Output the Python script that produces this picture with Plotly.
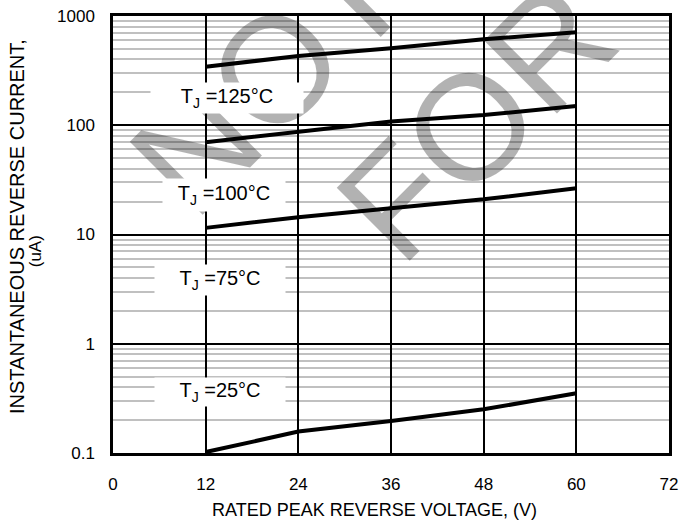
import plotly.graph_objects as go

# ---- data ----
voltage = [12, 24, 36, 48, 60]
current_25c = [0.102, 0.157, 0.196, 0.251, 0.352]
current_75c = [11.5, 14.4, 17.4, 21.0, 26.5]
current_100c = [70, 87, 108, 124, 150]
current_125c = [343, 431, 506, 612, 709]

series_names = ["T<sub>J</sub> =25°C", "T<sub>J</sub> =75°C",
                "T<sub>J</sub> =100°C", "T<sub>J</sub> =125°C"]
series_values = [current_25c, current_75c, current_100c, current_125c]

x_ticks = [0, 12, 24, 36, 48, 60, 72]
y_ticks = [0.1, 1, 10, 100, 1000]
y_tick_labels = ["0.1", "1", "10", "100", "1000"]
y_minor = [m * 10 ** e for e in range(-1, 3) for m in range(2, 10)]

x_title = "RATED PEAK REVERSE VOLTAGE, (V)"
y_title_1 = "INSTANTANEOUS REVERSE CURRENT,"
y_title_2 = "(uA)"
watermark_words = ["NOT", "FOR"]

FONT = "Liberation Sans, Arial, sans-serif"

fig = go.Figure()
for name, vals in zip(series_names, series_values):
    fig.add_trace(go.Scatter(x=voltage, y=vals, mode="lines", name=name,
                             line=dict(color="black", width=4),
                             showlegend=False, hoverinfo="skip"))

annotations = []
# watermark (semi-transparent so black lines stay black beneath)
wm_pos = [(0.2806, 0.865), (0.6529, 0.7597)]
for word, (px, py) in zip(watermark_words, wm_pos):
    annotations.append(dict(text=word, xref="paper", yref="paper", x=px, y=py,
                            xanchor="center", yanchor="middle", showarrow=False,
                            textangle=-45,
                            font=dict(family=FONT, size=150, color="rgba(0,0,0,0.30)")))

# curve labels
label_layout = {
    "T<sub>J</sub> =125°C": (0.205, 0.8124, 152, 30),
    "T<sub>J</sub> =100°C": (0.1996, 0.590, 122, 32),
    "T<sub>J</sub> =75°C": (0.1924, 0.3959, 130, 30),
    "T<sub>J</sub> =25°C": (0.1924, 0.1396, 130, 28),
}
for name in series_names:
    px, py, w, h = label_layout[name]
    annotations.append(dict(text=name, xref="paper", yref="paper", x=px, y=py,
                            xanchor="center", yanchor="middle", showarrow=False,
                            width=w, height=h, borderpad=0, bgcolor="white",
                            align="center", valign="middle",
                            font=dict(family=FONT, size=20, color="black")))

# axis titles
annotations.append(dict(text=x_title, xref="paper", yref="paper", x=0.471, y=-0.130,
                        xanchor="center", yanchor="middle", showarrow=False,
                        font=dict(family=FONT, size=18, color="black")))
annotations.append(dict(text=y_title_1, xref="paper", yref="paper", x=-0.173, y=0.519,
                        xanchor="center", yanchor="middle", showarrow=False, textangle=-90,
                        font=dict(family=FONT, size=20, color="black")))
annotations.append(dict(text=y_title_2, xref="paper", yref="paper", x=-0.140, y=0.462,
                        xanchor="center", yanchor="middle", showarrow=False, textangle=-90,
                        font=dict(family=FONT, size=17, color="black")))

fig.update_layout(
    width=679, height=520,
    margin=dict(l=113, r=10, t=16, b=67),
    paper_bgcolor="white", plot_bgcolor="white",
    font=dict(family=FONT, size=17, color="black"),
    annotations=annotations,
    xaxis=dict(range=[0, 72], tickmode="array", tickvals=x_ticks,
               showgrid=True, gridcolor="black", gridwidth=2,
               showline=True, linecolor="black", linewidth=2.5, mirror=True,
               ticks="", ticklabelstandoff=14, zeroline=False, automargin=False,
               tickfont=dict(family=FONT, size=17, color="black")),
    yaxis=dict(type="log", range=[-1, 3], tickmode="array", tickvals=y_ticks,
               ticktext=y_tick_labels,
               showgrid=True, gridcolor="black", gridwidth=2,
               minor=dict(tickmode="array", tickvals=y_minor, showgrid=True,
                          gridcolor="#c0c0c0", gridwidth=2, ticks=""),
               showline=True, linecolor="black", linewidth=2.5, mirror=True,
               ticks="", ticklabelstandoff=12, zeroline=False, automargin=False,
               tickfont=dict(family=FONT, size=17, color="black")),
)

# remove the browser's default 8px body margin so the figure fills the window exactly
fig.write_html("out.html",
               config={"displayModeBar": False},
               post_script="document.body.style.margin='0';document.body.style.overflow='hidden';")
